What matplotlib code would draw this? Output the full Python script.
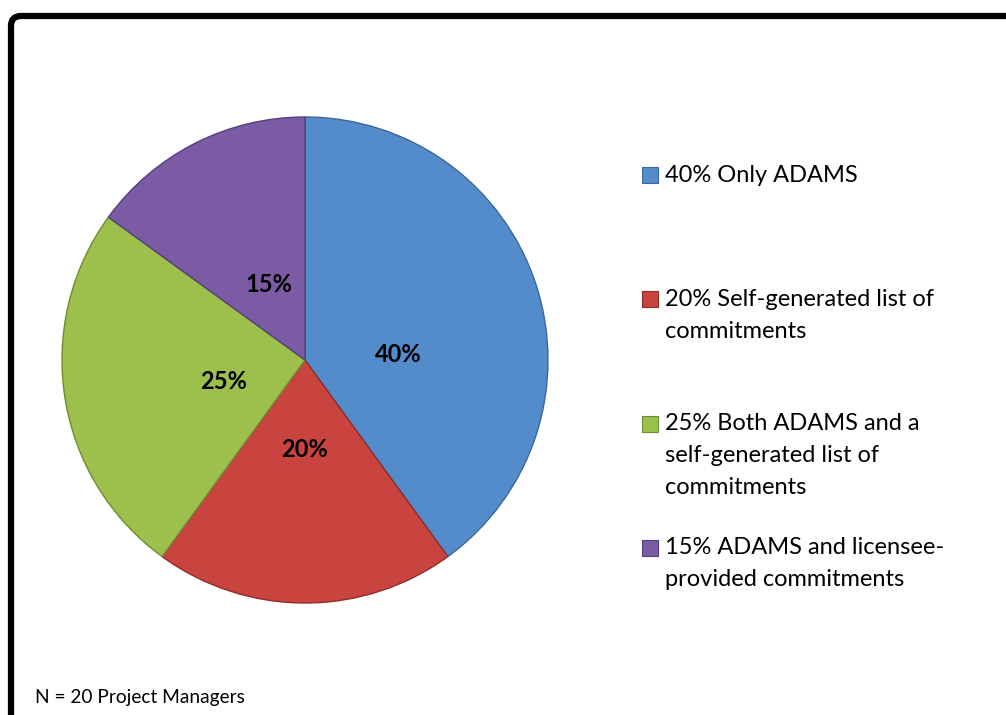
import matplotlib.pyplot as plt
from matplotlib.patches import FancyBboxPatch, Rectangle
from matplotlib.transforms import IdentityTransform

plt.rcParams['font.family'] = ['Lato', 'DejaVu Sans']

# data
categories = ['Only ADAMS', 'Self-generated list of commitments',
              'Both ADAMS and a self-generated list of commitments',
              'ADAMS and licensee-provided commitments']
shares = [40, 20, 25, 15]
legend_lines = [['40% Only ADAMS'],
                ['20% Self-generated list of', 'commitments'],
                ['25% Both ADAMS and a', 'self-generated list of', 'commitments'],
                ['15% ADAMS and licensee-', 'provided commitments']]
colors = ['#548BCB', '#C9433F', '#9CC04B', '#7A5BA4']
edges = ['#3A679C', '#8E2E2B', '#6E8C32', '#54407A']

W, H = 1006, 715
fig = plt.figure(figsize=(W / 100, H / 100), dpi=100)

# pie axes: centre (305, 360) px, radius 243 px
cx, cy, r = 305, 360, 243
ax = fig.add_axes([(cx - r) / W, (H - cy - r) / H, 2 * r / W, 2 * r / H])
wedges, texts, autotexts = ax.pie(shares, colors=colors, startangle=90, counterclock=False,
                                  autopct='%d%%', pctdistance=0.37,
                                  wedgeprops=dict(linewidth=1.0),
                                  textprops=dict(fontsize=17, fontweight='bold', color='black'))
for w, ec in zip(wedges, edges):
    w.set_edgecolor(ec)
    w.set_clip_on(False)
ax.set_xlim(-1, 1)
ax.set_ylim(-1, 1)
ax.set_aspect('equal')
# Excel puts the labels a little off the mid-angle
nudges = [(0.03, -0.09), (0.0, 0.0), (0.03, -0.03), (0.02, -0.02)]
for t, (dx, dy) in zip(autotexts, nudges):
    x0, y0 = t.get_position()
    t.set_position((x0 + dx, y0 + dy))

# outer frame (rounded corner, runs off right and bottom)
frame = FancyBboxPatch((11, -60), 1100, H - 16 + 60, boxstyle='round,pad=0,rounding_size=10',
                       transform=IdentityTransform(), fill=False, edgecolor='black',
                       linewidth=4.5, clip_on=False)
fig.add_artist(frame)

# legend drawn by hand so markers line up with first text line
entry_tops = [175, 299, 424, 548]
line_gap = 32
for lines, col, ec, yt in zip(legend_lines, colors, edges, entry_tops):
    sq = Rectangle((642, H - yt - 8), 16, 16, transform=IdentityTransform(),
                   facecolor=col, edgecolor=ec, linewidth=0.8)
    fig.add_artist(sq)
    for k, line in enumerate(lines):
        fig.text(665 / W, 1 - (yt + k * line_gap) / H, line, fontsize=17,
                 ha='left', va='center', color='black')

fig.text(35 / W, 1 - 697 / H, 'N = 20 Project Managers', fontsize=13.8,
         ha='left', va='center', color='black')

fig.savefig('out.png', dpi=100, facecolor='white')
